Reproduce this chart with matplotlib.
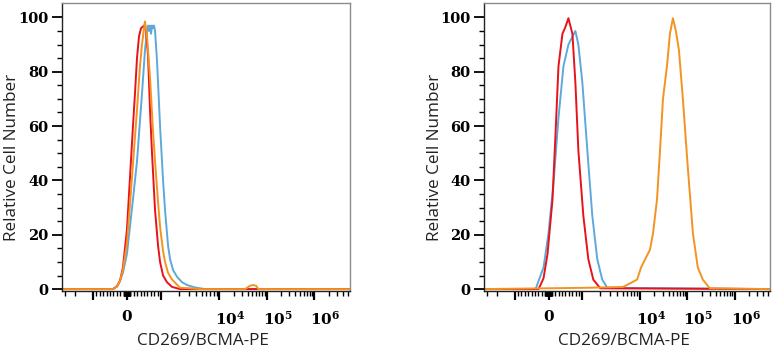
import numpy as np
import matplotlib
matplotlib.use("Agg")
import matplotlib.pyplot as plt
from matplotlib.ticker import FixedLocator, FixedFormatter
from matplotlib.transforms import ScaledTranslation

# ---------------- data (fluorescence value, % of max) ----------------
# Left panel
L_red_x = [-3400, -412, -294, -206, -118, 0, 88, 176, 235, 294, 353, 412, 500, 559, 618, 676, 735, 824, 912, 971, 1083, 1269, 1547, 2125, 5.6e6]
L_red_y = [0, 0, 1, 3, 8, 22, 41, 60, 72, 85, 93, 96, 97, 95, 86, 66, 50, 29, 16, 10, 5, 2.5, 0.8, 0, 0]

L_orange_x = [-3400, -412, -294, -206, -118, 0, 88, 147, 235, 294, 382, 441, 500, 529, 588, 676, 765, 824, 912, 971, 1083, 1172, 1320, 1547, 2125, 3162, 4700, 35300, 44000, 52000, 60000, 66300, 5.6e6]
L_orange_y = [0, 0, 1, 3, 7, 17, 31, 41, 56, 66, 82, 90, 96, 98.5, 93, 78, 58, 47, 32, 23, 14, 10, 6, 3.5, 0.5, 0.3, 0, 0, 1.2, 1.5, 1.2, 0, 0]

L_blue_x = [-3400, -412, -294, -206, -118, 0, 88, 176, 294, 382, 441, 529, 588, 618, 647, 676, 706, 735, 765, 794, 824, 882, 971, 1083, 1172, 1320, 1430, 1610, 1887, 2300, 2806, 3850, 5740, 5.6e6]
L_blue_y = [0, 0, 1, 3, 6, 13, 23, 33, 47, 62, 72, 88, 95, 97, 95, 97, 94, 97, 96, 97, 95, 84, 60, 40, 29, 16, 11, 7, 4.5, 2.5, 1.5, 0.6, 0, 0]

# Right panel
R_red_x = [-3400, -294, -147, -29, 118, 206, 294, 412, 500, 588, 706, 794, 882, 1040, 1269, 1547, 2040, 5.6e6]
R_red_y = [0, 0, 4, 13, 33, 57, 82, 94, 96.5, 99.7, 94, 76, 51, 27, 11, 3.5, 0.3, 0]

R_blue_x = [-3400, -382, -147, 0, 147, 294, 441, 588, 794, 882, 1000, 1220, 1487, 1813, 2210, 2700, 5.6e6]
R_blue_y = [0, 0, 8, 20.6, 39, 63, 82, 90, 95, 90, 76, 51, 27, 11, 3.5, 0.5, 0]

R_orange_x = [-3400, 1374, 5090, 8880, 10500, 16200, 18800, 22800, 26400, 30500, 37000, 42800, 49500, 57200, 66300, 80400, 102000, 131000, 166000, 212000, 298000, 5.6e6]
R_orange_y = [0, 0.5, 0.8, 3.5, 8, 14.5, 20.6, 33, 51, 70, 82, 94, 99.7, 95, 88, 70, 45, 20.6, 8, 3.5, 0.3, 0]

x_label = "CD269/BCMA-PE"
y_label = "Relative Cell Number"
x_tick_labels = {0: "0", 1e4: r"$10^{4}$", 1e5: r"$10^{5}$", 1e6: r"$10^{6}$"}
y_ticks = [0, 20, 40, 60, 80, 100]

RED = "#e8121b"
ORANGE = "#f49321"
BLUE = "#5ea9da"

# ---------------- biexponential-like axis transform ----------------
LIN_W = 34.0     # display units from 0 to 1e3
DEC1 = 58.0      # display units for 1e3..1e4
DEC2 = 47.5      # display units per decade above 1e4


def forward(x):
    x = np.asarray(x, dtype=float)
    a = np.abs(x)
    with np.errstate(divide="ignore", invalid="ignore"):
        u = np.where(
            a <= 1e3, a / 1e3 * LIN_W,
            np.where(a <= 1e4,
                     LIN_W + DEC1 * np.log10(np.maximum(a, 1e-12) / 1e3),
                     LIN_W + DEC1 + DEC2 * np.log10(np.maximum(a, 1e-12) / 1e4)))
    return np.sign(x) * u


def inverse(u):
    u = np.asarray(u, dtype=float)
    b = np.abs(u)
    a = np.where(
        b <= LIN_W, b / LIN_W * 1e3,
        np.where(b <= LIN_W + DEC1,
                 1e3 * 10 ** ((b - LIN_W) / DEC1),
                 1e4 * 10 ** ((b - LIN_W - DEC1) / DEC2)))
    return np.sign(u) * a


plt.rcParams["mathtext.fontset"] = "dejavuserif"
plt.rcParams["mathtext.default"] = "bf"

fig = plt.figure(figsize=(7.76, 3.54), dpi=100)
W, H = 776.0, 354.0
axes_px = [(62, 3, 288, 288), (484, 3, 286, 288)]

panels = [
    [(L_blue_x, L_blue_y, BLUE), (L_red_x, L_red_y, RED), (L_orange_x, L_orange_y, ORANGE)],
    [(R_blue_x, R_blue_y, BLUE), (R_red_x, R_red_y, RED), (R_orange_x, R_orange_y, ORANGE)],
]

major_x = [-1e3, 0, 1e3, 1e4, 1e5, 1e6]
minor_x = []
for k in range(0, 3):
    for m in range(1, 10):
        v = m * 10 ** k
        minor_x += [v, -v]
for m in range(2, 10):
    minor_x += [m * 1e3, -m * 1e3, m * 1e4, m * 1e5]
for m in range(2, 6):
    minor_x.append(m * 1e6)

for (px, py, pw, ph), curves in zip(axes_px, panels):
    ax = fig.add_axes([px / W, 1 - (py + ph) / H, pw / W, ph / H])
    ax.set_xscale("function", functions=(forward, inverse))
    for xs, ys, c in curves:
        ax.plot(xs, ys, color=c, lw=1.4, solid_joinstyle="round")
    ax.set_xlim(-3400, 5.6e6)
    ax.set_ylim(-0.7, 105.3)

    ax.xaxis.set_major_locator(FixedLocator(major_x))
    ax.xaxis.set_major_formatter(FixedFormatter([x_tick_labels.get(v, "") for v in major_x]))
    ax.xaxis.set_minor_locator(FixedLocator(minor_x))
    ax.tick_params(axis="x", which="major", direction="out", length=6.5, width=1.6,
                   pad=7, labelsize=11, color="black")
    ax.tick_params(axis="x", which="minor", direction="out", length=3.5, width=1.0, color="black")
    for v, lab in zip(major_x, ax.get_xticklabels()):
        lab.set_fontfamily("DejaVu Serif")
        lab.set_fontweight("bold")
        if v >= 1e4:
            lab.set_horizontalalignment("left")
            lab.set_transform(lab.get_transform() + ScaledTranslation(-4 / 100, 0, fig.dpi_scale_trans))

    ax.set_yticks(y_ticks)
    ax.set_yticks(np.arange(0, 101, 5), minor=True)
    ax.tick_params(axis="y", which="major", direction="out", length=7, width=1.3,
                   pad=3, labelsize=10.5)
    ax.tick_params(axis="y", which="minor", direction="out", length=3.5, width=1.0)
    for lab in ax.get_yticklabels():
        lab.set_fontfamily("DejaVu Serif")
        lab.set_fontweight("bold")

    for s in ("top", "right"):
        ax.spines[s].set_color("#8c8c8c")
        ax.spines[s].set_linewidth(1.0)
    for s in ("left", "bottom"):
        ax.spines[s].set_color("#222222")
        ax.spines[s].set_linewidth(1.0)

    ax.set_xlabel(x_label, fontfamily="Open Sans", fontsize=12.3, color="#222222")
    ax.set_ylabel(y_label, fontfamily="Open Sans", fontsize=12.3, color="#222222")
    ax.xaxis.set_label_coords(0.49, -0.145)
    ax.yaxis.set_label_coords(-0.145, 0.465)

fig.savefig("out.png", dpi=100)
